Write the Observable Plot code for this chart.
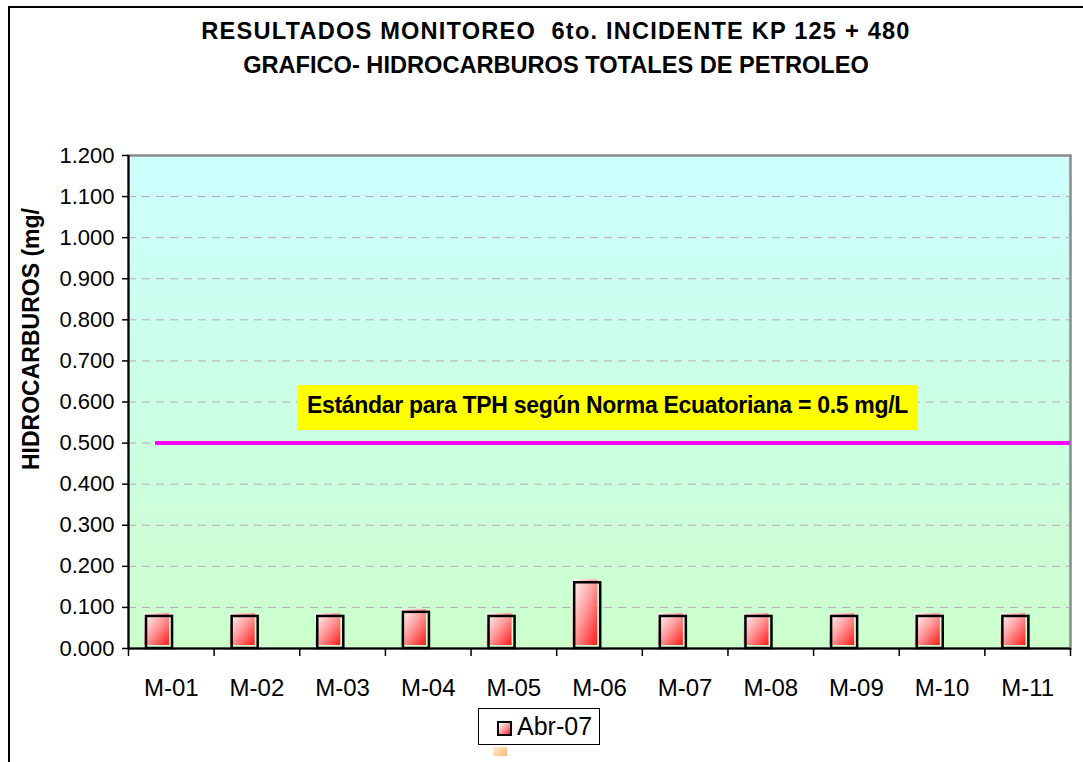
<!DOCTYPE html>
<html><head><meta charset="utf-8">
<script src="https://cdn.jsdelivr.net/npm/d3@7"></script>
<script src="https://cdn.jsdelivr.net/npm/@observablehq/plot@0.6"></script>
<style>
body{margin:0;background:#fff;font-family:"Liberation Sans",Arial,sans-serif;}
#wrap{position:relative;width:1083px;height:762px;overflow:hidden;background:#fff;}
#outer{position:absolute;left:8px;top:6px;width:1200px;height:900px;border-left:2px solid #000;border-top:2px solid #000;}
#chart{position:absolute;left:0;top:0;}
.title{position:absolute;left:556px;transform:translateX(-50%);white-space:pre;font-weight:bold;font-size:23.6px;color:#000;}
#ytitle{position:absolute;left:0;top:0;transform:translate(20px,470px) rotate(-90deg);transform-origin:0 0;white-space:nowrap;font-weight:bold;font-size:23px;line-height:1;}
#note{position:absolute;left:297px;top:385px;width:621px;height:45px;background:#ffff00;font-weight:bold;font-size:23px;text-align:center;line-height:40px;white-space:nowrap;letter-spacing:-0.3px;}
#legend{position:absolute;left:478px;top:708px;width:120px;height:35px;border:1.5px solid #000;background:#fff;}
#legtext{position:absolute;left:517px;top:712px;font-size:25px;line-height:28px;}
#legicon{position:absolute;left:497px;top:721px;width:11px;height:11px;border:2px solid #000;background:linear-gradient(135deg,#fff 0%,#ff9a9a 55%,#ff2020 100%);}
#legicon2{position:absolute;left:493px;top:747px;width:14px;height:9px;background:linear-gradient(135deg,#fff0d8 0%,#ffb870 100%);}
#legline2{position:absolute;left:496px;top:742px;width:15px;height:2px;background:#000;}
</style></head>
<body>
<div id="wrap">
  <div id="outer"></div>
  <div id="chart"></div>
  <div class="title" style="top:18px;letter-spacing:1.2px">RESULTADOS MONITOREO  6to. INCIDENTE KP 125 + 480</div>
  <div class="title" style="top:52px">GRAFICO- HIDROCARBUROS TOTALES DE PETROLEO</div>
  <div id="ytitle">HIDROCARBUROS (mg/</div>
  <div id="note">Estándar para TPH según Norma Ecuatoriana = 0.5 mg/L</div>
  <div id="legicon2"></div>
  <div id="legline2"></div>
  <div id="legend"></div>
  <div id="legicon"></div>
  <div id="legtext">Abr-07</div>
</div>
<script>
const categories = ["M-01","M-02","M-03","M-04","M-05","M-06","M-07","M-08","M-09","M-10","M-11"];
const abr07 = [0.078,0.078,0.078,0.088,0.078,0.160,0.078,0.078,0.078,0.078,0.078];
const standardTPH = [0.5];
const yTicks = [0,0.1,0.2,0.3,0.4,0.5,0.6,0.7,0.8,0.9,1.0,1.1,1.2];
const gridTicks = [0.1,0.2,0.3,0.4,0.5,0.6,0.7,0.8,0.9,1.0,1.1];
const seriesName = "Abr-07";

const data = categories.map((c, i) => ({site: c, value: abr07[i], series: seriesName}));

const W = 1083, H = 762, ML = 128, MR = 13, MT = 155, MB = 114;
const half = (W - ML - MR) / categories.length / 2;

const plot = Plot.plot({
  width: W, height: H,
  marginTop: MT, marginBottom: MB, marginLeft: ML, marginRight: MR,
  style: {fontFamily: "Liberation Sans, Arial, sans-serif", background: "transparent", color: "#000"},
  x: {domain: categories, padding: 0, round: false, label: null},
  y: {domain: [0, 1.2], label: null},
  marks: [
    Plot.frame({fill: "url(#bgGrad)", stroke: "#8a8a8a", strokeWidth: 2.5}),
    Plot.gridY(gridTicks, {stroke: "#b8a8b8", strokeOpacity: 1, strokeDasharray: "8,6", strokeWidth: 1}),
    Plot.ruleY(standardTPH, {stroke: "#ff00ff", strokeWidth: 4, insetLeft: 27}),
    Plot.barY(data, {x: "site", y: "value", fill: "url(#barGrad)", insetLeft: 16, insetRight: 44.6, dy: -3}),
    Plot.barY(data, {x: "site", y: "value", fill: "none", stroke: "#000", strokeWidth: 2.5, insetLeft: 18, insetRight: 41.6}),
    Plot.ruleX([categories[0]], {dx: -half, stroke: "#000", strokeWidth: 2}),
    Plot.ruleY([0], {stroke: "#000", strokeWidth: 2}),
    Plot.axisY(yTicks, {tickFormat: d3.format(".3f"), tickSize: 6, tickPadding: 8, fontSize: 22, stroke: "#000", strokeWidth: 1.5}),
    Plot.axisX(categories, {tickSize: 8, dx: -half, tickFormat: () => "", stroke: "#000", strokeWidth: 1.5}),
    Plot.axisX([categories[categories.length - 1]], {tickSize: 8, dx: half, tickFormat: () => "", stroke: "#000", strokeWidth: 1.5}),
    Plot.axisX(categories, {tickSize: 0, tickPadding: 30, fontSize: 24})
  ]
});

const svg = plot.tagName.toLowerCase() === "svg" ? plot : plot.querySelector("svg");
const defs = d3.select(svg).insert("defs", ":first-child");
const bg = defs.append("linearGradient").attr("id", "bgGrad").attr("x1", 0).attr("y1", 0).attr("x2", 0).attr("y2", 1);
bg.append("stop").attr("offset", "0%").attr("stop-color", "#ccffff");
bg.append("stop").attr("offset", "100%").attr("stop-color", "#ccffcc");
const bar = defs.append("linearGradient").attr("id", "barGrad").attr("x1", 0).attr("y1", 0).attr("x2", 1).attr("y2", 1);
bar.append("stop").attr("offset", "0%").attr("stop-color", "#ffffff");
bar.append("stop").attr("offset", "50%").attr("stop-color", "#ff9a9a");
bar.append("stop").attr("offset", "100%").attr("stop-color", "#ff1a1a");

document.getElementById("chart").appendChild(plot);
</script>
</body></html>
